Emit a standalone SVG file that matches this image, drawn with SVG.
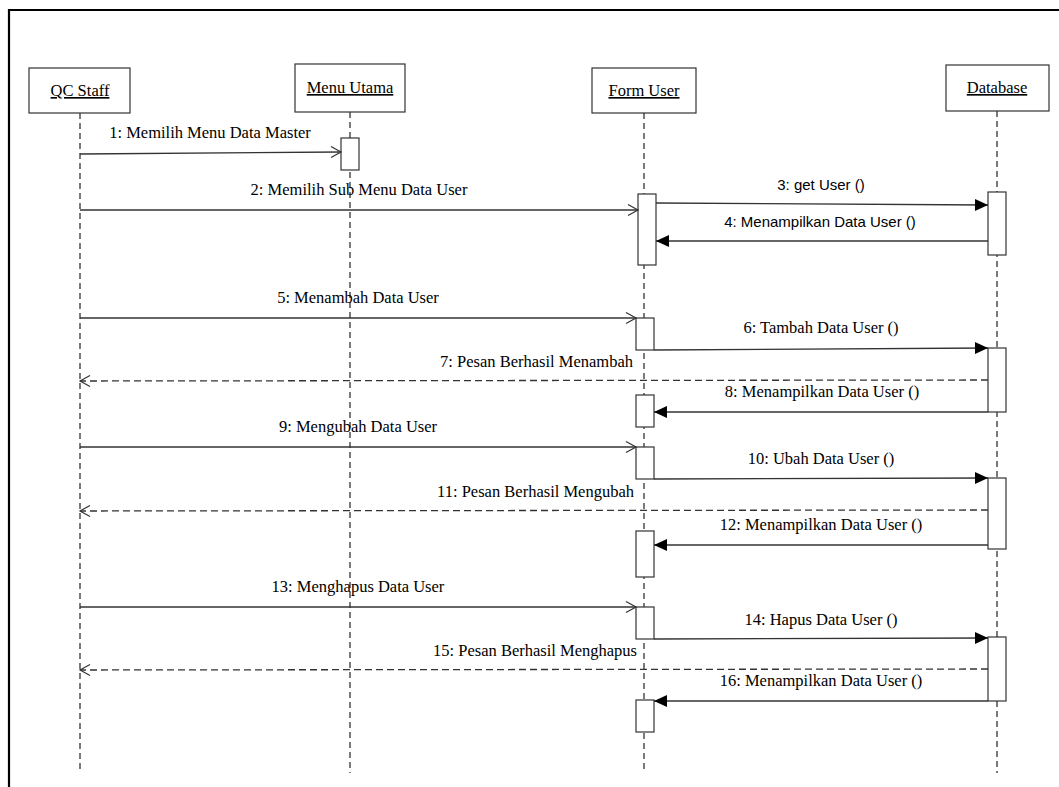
<svg xmlns="http://www.w3.org/2000/svg" width="1059" height="787" viewBox="0 0 1059 787">
  <style>
    .frame { fill: none; stroke: #000; stroke-width: 2.2; }
    .head { fill: #fff; stroke: #333; stroke-width: 1.2; }
    .hlabel { font-family: "Liberation Serif", "Times New Roman", serif; font-size: 16.5px; fill: #000; text-anchor: middle; text-decoration: underline; }
    .life { stroke: #222; stroke-width: 1.2; stroke-dasharray: 6 4; fill: none; }
    .act { fill: #fff; stroke: #333; stroke-width: 1.2; }
    .msg { stroke: #333; stroke-width: 1.3; fill: none; }
    .ret { stroke: #333; stroke-width: 1.3; fill: none; stroke-dasharray: 7 4; }
    .open { marker-end: url(#openHead); }
    .solid { marker-end: url(#solidHead); }
    .lbl { font-family: "Liberation Serif", "Times New Roman", serif; font-size: 16.5px; fill: #000; text-anchor: middle; }
    .lbl-end { text-anchor: end; }
    .sans { font-family: "Liberation Sans", Arial, sans-serif; font-size: 15px; }
  </style>
  <defs>
    <marker id="openHead" markerUnits="userSpaceOnUse" markerWidth="12" markerHeight="12" refX="10" refY="6" orient="auto" overflow="visible">
      <path d="M0,0.5 L10,6 L0,11.5" fill="none" stroke="#333" stroke-width="1.2" stroke-dasharray="none"/>
    </marker>
    <marker id="solidHead" markerUnits="userSpaceOnUse" markerWidth="14" markerHeight="14" refX="13" refY="7" orient="auto" overflow="visible">
      <path d="M0,1 L13,7 L0,13 Z" fill="#000" stroke="none"/>
    </marker>
  </defs>

  <rect width="1059" height="787" fill="#fff"/>

  <!-- diagram frame -->
  <path class="frame" d="M9,787 V10 H1059"/>

  <!-- lifelines -->
  <g id="lifelines">
    <line class="life" x1="80" y1="113" x2="80" y2="773"/>
    <line class="life" x1="350" y1="112" x2="350" y2="773"/>
    <line class="life" x1="644" y1="113" x2="644" y2="773"/>
    <line class="life" x1="997" y1="111" x2="997" y2="773"/>
  </g>

  <!-- participants -->
  <g id="qc-staff">
    <rect class="head" x="29" y="68" width="101" height="45"/>
    <text class="hlabel" x="80" y="96">QC Staff</text>
  </g>
  <g id="menu-utama">
    <rect class="head" x="295" y="64" width="110" height="48"/>
    <text class="hlabel" x="350" y="93">Menu Utama</text>
    <rect class="act" x="341" y="138" width="18" height="32"/>
  </g>
  <g id="form-user">
    <rect class="head" x="592" y="68" width="104" height="45"/>
    <text class="hlabel" x="644" y="96">Form User</text>
    <rect class="act" x="638" y="194" width="18" height="71"/>
    <rect class="act" x="636" y="318" width="18" height="32"/>
    <rect class="act" x="636" y="395" width="18" height="32"/>
    <rect class="act" x="636" y="447" width="18" height="32"/>
    <rect class="act" x="636" y="531" width="18" height="46"/>
    <rect class="act" x="636" y="607" width="18" height="32"/>
    <rect class="act" x="636" y="700" width="18" height="32"/>
  </g>
  <g id="database">
    <rect class="head" x="946" y="65" width="103" height="46"/>
    <text class="hlabel" x="997" y="93">Database</text>
    <rect class="act" x="988" y="192" width="18" height="63"/>
    <rect class="act" x="988" y="348" width="18" height="64"/>
    <rect class="act" x="988" y="478" width="18" height="71"/>
    <rect class="act" x="988" y="637" width="18" height="64"/>
  </g>

  <!-- messages -->
  <g id="connectors">
    <line class="msg open" x1="80" y1="154" x2="341" y2="152"/>
    <line class="msg open" x1="80" y1="210" x2="638" y2="210"/>
    <line class="msg solid" x1="656" y1="203" x2="988" y2="205"/>
    <line class="msg solid" x1="988" y1="241" x2="656" y2="241"/>

    <line class="msg open" x1="80" y1="318" x2="636" y2="318"/>
    <line class="msg solid" x1="654" y1="350" x2="988" y2="348"/>
    <line class="ret open" x1="988" y1="380" x2="80" y2="381"/>
    <line class="msg solid" x1="988" y1="412" x2="654" y2="412"/>

    <line class="msg open" x1="80" y1="447" x2="636" y2="447"/>
    <line class="msg solid" x1="654" y1="479" x2="988" y2="478"/>
    <line class="ret open" x1="988" y1="510" x2="80" y2="511"/>
    <line class="msg solid" x1="988" y1="545" x2="654" y2="545"/>

    <line class="msg open" x1="80" y1="607" x2="636" y2="607"/>
    <line class="msg solid" x1="654" y1="639" x2="988" y2="638"/>
    <line class="ret open" x1="988" y1="669" x2="80" y2="670"/>
    <line class="msg solid" x1="988" y1="701" x2="654" y2="701"/>
  </g>

  <!-- message labels -->
  <g id="labels">
    <text class="lbl" x="210" y="138">1: Memilih Menu Data Master</text>
    <text class="lbl" x="359" y="195">2: Memilih Sub Menu Data User</text>
    <text class="lbl sans" x="821" y="190">3: get User ()</text>
    <text class="lbl sans" x="820" y="227">4: Menampilkan Data User ()</text>

    <text class="lbl" x="358" y="303">5: Menambah Data User</text>
    <text class="lbl" x="821" y="333">6: Tambah Data User ()</text>
    <text class="lbl lbl-end" x="633" y="367">7: Pesan Berhasil Menambah</text>
    <text class="lbl" x="822" y="397">8: Menampilkan Data User ()</text>

    <text class="lbl" x="358" y="432">9: Mengubah Data User</text>
    <text class="lbl" x="821" y="464">10: Ubah Data User ()</text>
    <text class="lbl lbl-end" x="634" y="497">11: Pesan Berhasil Mengubah</text>
    <text class="lbl" x="821" y="530">12: Menampilkan Data User ()</text>

    <text class="lbl" x="358" y="592">13: Menghapus Data User</text>
    <text class="lbl" x="821" y="625">14: Hapus Data User ()</text>
    <text class="lbl lbl-end" x="637" y="656">15: Pesan Berhasil Menghapus</text>
    <text class="lbl" x="821" y="686">16: Menampilkan Data User ()</text>
  </g>
</svg>
